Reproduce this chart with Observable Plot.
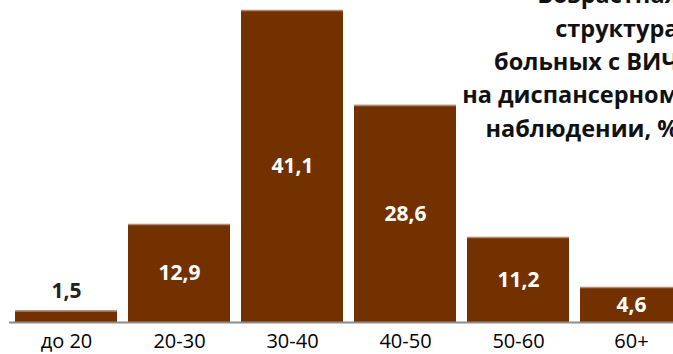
<!DOCTYPE html>
<html>
<head>
<meta charset="utf-8">
<script src="https://cdn.jsdelivr.net/npm/d3@7"></script>
<script src="https://cdn.jsdelivr.net/npm/@observablehq/plot@0.6"></script>
<style>
  html, body { margin: 0; padding: 0; background: #fff; overflow: hidden; }
  svg { overflow: visible; }
</style>
</head>
<body>
<div id="chart"></div>
<script>
const categories = ["до 20", "20-30", "30-40", "40-50", "50-60", "60+"];
const values = [1.5, 12.9, 41.1, 28.6, 11.2, 4.6];
const titleLines = ["Возрастная", "структура", "больных с ВИЧ", "на диспансерном", "наблюдении, %"];

const data = categories.map((c, i) => ({cat: c, v: values[i], label: String(values[i]).replace(".", ",")}));
const inside = data.filter(d => d.v >= 3);
const outside = data.filter(d => d.v < 3);

const barColor = "#733100";
const font = "'Open Sans', sans-serif";

const chart = Plot.plot({
  width: 673,
  height: 354,
  marginTop: 10,
  marginBottom: 32,
  marginLeft: 9,
  marginRight: 0,
  style: {fontFamily: font, background: "#fff", overflow: "visible"},
  x: {domain: categories, range: [3, 693], padding: 0.1, label: null},
  y: {domain: [0, 41.1], axis: null},
  marks: [
    Plot.barY(data, {x: "cat", y: "v", fill: barColor}),
    Plot.tickY(data, {x: "cat", y: "v", stroke: "#b08a72", strokeWidth: 1.5}),
    Plot.ruleY([0], {stroke: "#8c8c8c", strokeWidth: 2}),
    Plot.axisX({tickSize: 0, tickPadding: 11, fontSize: 20, fill: "#000", label: null}),
    Plot.text(inside, {x: "cat", y: d => d.v / 2, text: "label", fill: "#fff", fontSize: 21, fontWeight: "bold", letterSpacing: 1}),
    Plot.text(outside, {x: "cat", y: "v", text: "label", fill: "#222", fontSize: 21, fontWeight: "bold", letterSpacing: 1, dy: -20}),
    Plot.text([titleLines.join("\n")], {frameAnchor: "top-right", textAnchor: "end", lineAnchor: "top", lineHeight: 1.42, fontSize: 23.5, fontWeight: "bold", fill: "#111", dx: 5, dy: -31})
  ]
});
document.getElementById("chart").appendChild(chart);
</script>
</body>
</html>
